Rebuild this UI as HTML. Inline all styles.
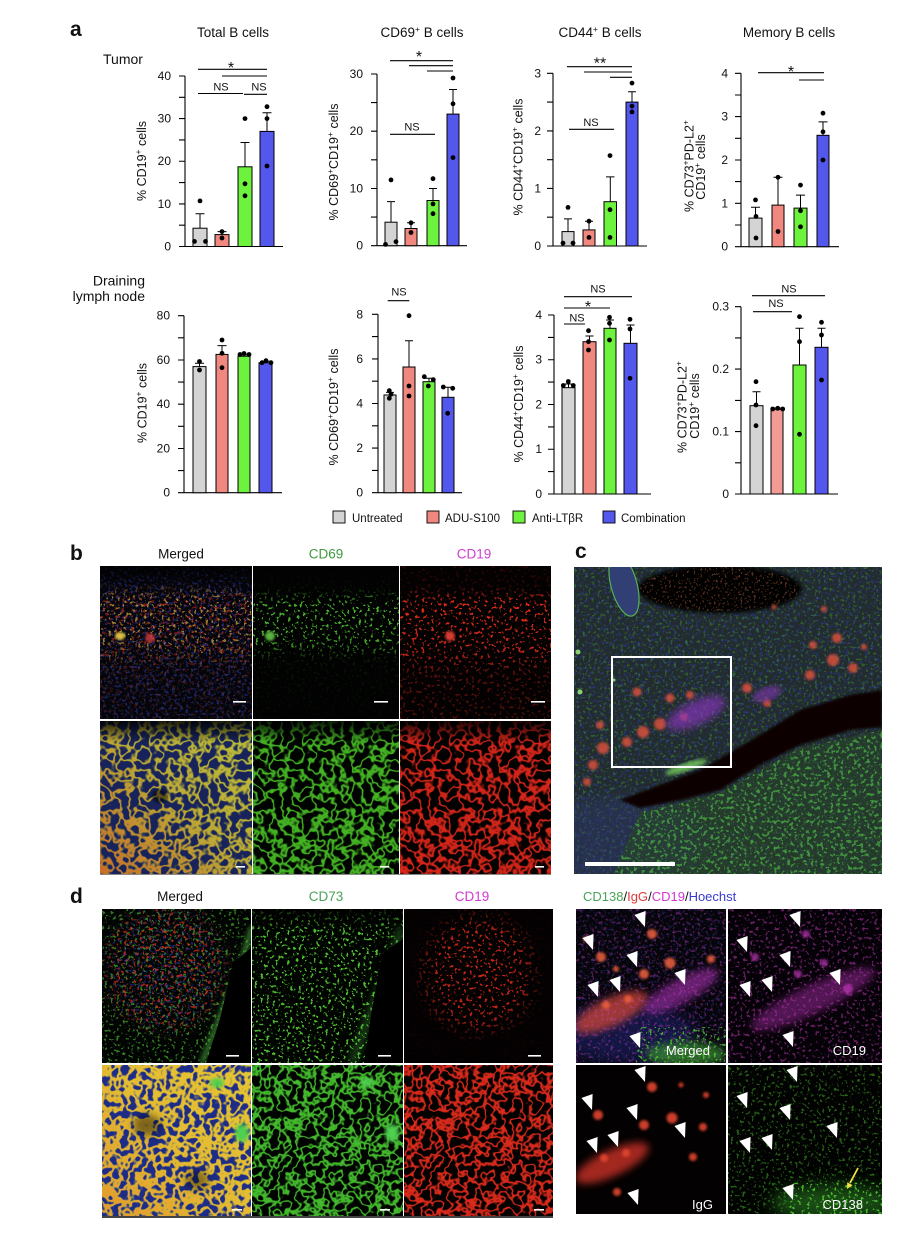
<!DOCTYPE html>
<html><head><meta charset="utf-8"><style>
html,body{margin:0;padding:0;background:#fff}
svg{display:block}
text{font-family:"Liberation Sans",Arial,sans-serif;fill:#111}
.tk{font-size:12px;text-anchor:end}
.ti{font-size:13.5px;text-anchor:middle}
.yl{font-size:12.5px;text-anchor:middle}
.ns{font-size:11px;text-anchor:middle}
.st{font-size:16px;text-anchor:middle}
.lt{font-size:21px;font-weight:bold}
.hd{font-size:13.5px;text-anchor:middle}
.lg{font-size:11.5px}
.wt{fill:#fff;font-size:13px;text-anchor:end}
.ax,.er,.sg{fill:none;stroke:#000;stroke-width:1.1}
.er{stroke-width:1}
.bar{stroke:#000;stroke-width:1}
</style></head><body>
<svg width="900" height="1234" viewBox="0 0 900 1234" xmlns="http://www.w3.org/2000/svg">
<defs>
<filter id="spG" x="0" y="0" width="1" height="1" color-interpolation-filters="sRGB"><feTurbulence type="fractalNoise" baseFrequency="0.34" numOctaves="2" seed="3"/><feColorMatrix type="matrix" values="0 0 0 0 0.32 0 0 0 0 0.8 0 0 0 0 0.2 13 0 0 0 -7.9"/></filter>
<filter id="spR" x="0" y="0" width="1" height="1" color-interpolation-filters="sRGB"><feTurbulence type="fractalNoise" baseFrequency="0.32" numOctaves="2" seed="8"/><feColorMatrix type="matrix" values="0 0 0 0 0.92 0 0 0 0 0.18 0 0 0 0 0.1 13 0 0 0 -7.8"/></filter>
<filter id="spY" x="0" y="0" width="1" height="1" color-interpolation-filters="sRGB"><feTurbulence type="fractalNoise" baseFrequency="0.34" numOctaves="2" seed="3"/><feColorMatrix type="matrix" values="0 0 0 0 0.9 0 0 0 0 0.72 0 0 0 0 0.25 13 0 0 0 -7.9"/></filter>
<filter id="spB" x="0" y="0" width="1" height="1" color-interpolation-filters="sRGB"><feTurbulence type="fractalNoise" baseFrequency="0.36" numOctaves="2" seed="12"/><feColorMatrix type="matrix" values="0 0 0 0 0.18 0 0 0 0 0.25 0 0 0 0 0.75 10 0 0 0 -5.8"/></filter>
<filter id="spM" x="0" y="0" width="1" height="1" color-interpolation-filters="sRGB"><feTurbulence type="fractalNoise" baseFrequency="0.32" numOctaves="2" seed="8"/><feColorMatrix type="matrix" values="0 0 0 0 0.85 0 0 0 0 0.25 0 0 0 0 0.8 13 0 0 0 -7.8"/></filter>
<filter id="spG2" x="0" y="0" width="1" height="1" color-interpolation-filters="sRGB"><feTurbulence type="fractalNoise" baseFrequency="0.3" numOctaves="2" seed="5"/><feColorMatrix type="matrix" values="0 0 0 0 0.3 0 0 0 0 0.72 0 0 0 0 0.28 10 0 0 0 -5.6"/></filter>
<filter id="spO" x="0" y="0" width="1" height="1" color-interpolation-filters="sRGB"><feTurbulence type="fractalNoise" baseFrequency="0.45" numOctaves="2" seed="9"/><feColorMatrix type="matrix" values="0 0 0 0 1 0 0 0 0 0.55 0 0 0 0 0.35 12 0 0 0 -7.2"/></filter>
<filter id="meshG" x="0" y="0" width="1" height="1" color-interpolation-filters="sRGB"><feTurbulence type="fractalNoise" baseFrequency="0.1" numOctaves="2" seed="4"/><feColorMatrix type="matrix" values="0 0 0 0 0.27 0 0 0 0 0.72 0 0 0 0 0.14 1 0 0 0 0"/><feComponentTransfer><feFuncA type="table" tableValues="0 0 0 0 0 0 0 0 0 0 0 0 0 .1 .5 .9 1 .9 .5 .1 0 0 0 0 0 0 0 0 0 0 0 0 0"/></feComponentTransfer></filter>
<filter id="meshR" x="0" y="0" width="1" height="1" color-interpolation-filters="sRGB"><feTurbulence type="fractalNoise" baseFrequency="0.1" numOctaves="2" seed="4"/><feColorMatrix type="matrix" values="0 0 0 0 0.86 0 0 0 0 0.15 0 0 0 0 0.1 1 0 0 0 0"/><feComponentTransfer><feFuncA type="table" tableValues="0 0 0 0 0 0 0 0 0 0 0 0 0 .1 .5 .9 1 .9 .5 .1 0 0 0 0 0 0 0 0 0 0 0 0 0"/></feComponentTransfer></filter>
<filter id="meshY" x="0" y="0" width="1" height="1" color-interpolation-filters="sRGB"><feTurbulence type="fractalNoise" baseFrequency="0.1" numOctaves="2" seed="4"/><feColorMatrix type="matrix" values="0 0 0 0 0.74 0 0 0 0 0.76 0 0 0 0 0.22 1 0 0 0 0"/><feComponentTransfer><feFuncA type="table" tableValues="0 0 0 0 0 0 0 0 0 0 0 0 0 .2 .6 .95 1 .95 .6 .2 0 0 0 0 0 0 0 0 0 0 0 0 0"/></feComponentTransfer></filter>
<filter id="meshG2" x="0" y="0" width="1" height="1" color-interpolation-filters="sRGB"><feTurbulence type="fractalNoise" baseFrequency="0.11" numOctaves="2" seed="17"/><feColorMatrix type="matrix" values="0 0 0 0 0.27 0 0 0 0 0.75 0 0 0 0 0.18 1 0 0 0 0"/><feComponentTransfer><feFuncA type="table" tableValues="0 0 0 0 0 0 0 0 0 0 0 0 0 .1 .5 .9 1 .9 .5 .1 0 0 0 0 0 0 0 0 0 0 0 0 0"/></feComponentTransfer></filter>
<filter id="meshR2" x="0" y="0" width="1" height="1" color-interpolation-filters="sRGB"><feTurbulence type="fractalNoise" baseFrequency="0.11" numOctaves="2" seed="17"/><feColorMatrix type="matrix" values="0 0 0 0 0.88 0 0 0 0 0.17 0 0 0 0 0.11 1 0 0 0 0"/><feComponentTransfer><feFuncA type="table" tableValues="0 0 0 0 0 0 0 0 0 0 0 0 0 .1 .5 .9 1 .9 .5 .1 0 0 0 0 0 0 0 0 0 0 0 0 0"/></feComponentTransfer></filter>
<filter id="meshY2" x="0" y="0" width="1" height="1" color-interpolation-filters="sRGB"><feTurbulence type="fractalNoise" baseFrequency="0.11" numOctaves="2" seed="17"/><feColorMatrix type="matrix" values="0 0 0 0 0.9 0 0 0 0 0.78 0 0 0 0 0.2 1 0 0 0 0"/><feComponentTransfer><feFuncA type="table" tableValues="0 0 0 0 0 0 0 0 0 0 0 0 .2 .6 .95 1 1 1 .95 .6 .2 0 0 0 0 0 0 0 0 0 0 0 0"/></feComponentTransfer></filter>
<filter id="bl1"><feGaussianBlur stdDeviation="1.2"/></filter>
<filter id="bl2"><feGaussianBlur stdDeviation="2"/></filter>
<filter id="bl4" x="-50%" y="-50%" width="200%" height="200%"><feGaussianBlur stdDeviation="4"/></filter>
<filter id="bl8" x="-50%" y="-50%" width="200%" height="200%"><feGaussianBlur stdDeviation="8"/></filter>
<linearGradient id="gBand" x1="0" y1="0" x2="0" y2="1"><stop offset="0" stop-color="#fff" stop-opacity="0"/><stop offset=".12" stop-color="#fff" stop-opacity=".1"/><stop offset=".22" stop-color="#fff" stop-opacity="1"/><stop offset=".5" stop-color="#fff" stop-opacity=".9"/><stop offset=".66" stop-color="#fff" stop-opacity=".2"/><stop offset="1" stop-color="#fff" stop-opacity=".1"/></linearGradient>
<linearGradient id="gBandG" x1="0" y1="0" x2="0" y2="1"><stop offset="0" stop-color="#fff" stop-opacity="0"/><stop offset=".15" stop-color="#fff" stop-opacity=".08"/><stop offset=".25" stop-color="#fff" stop-opacity=".9"/><stop offset=".5" stop-color="#fff" stop-opacity=".8"/><stop offset=".62" stop-color="#fff" stop-opacity=".1"/><stop offset="1" stop-color="#fff" stop-opacity=".03"/></linearGradient>
<linearGradient id="gBandR" x1="0" y1="0" x2="0" y2="1"><stop offset="0" stop-color="#fff" stop-opacity=".15"/><stop offset=".14" stop-color="#fff" stop-opacity=".15"/><stop offset=".24" stop-color="#fff" stop-opacity=".95"/><stop offset=".55" stop-color="#fff" stop-opacity=".8"/><stop offset=".7" stop-color="#fff" stop-opacity=".35"/><stop offset="1" stop-color="#fff" stop-opacity=".3"/></linearGradient>
<linearGradient id="gLL" x1="1" y1="0" x2="0" y2="1"><stop offset="0" stop-color="#fff" stop-opacity="0"/><stop offset=".5" stop-color="#fff" stop-opacity=".2"/><stop offset="1" stop-color="#fff" stop-opacity=".8"/></linearGradient>
<linearGradient id="gTop" x1="0" y1="0" x2="0" y2="1"><stop offset="0" stop-color="#000" stop-opacity=".85"/><stop offset=".14" stop-color="#000" stop-opacity="0"/></linearGradient>
<radialGradient id="gRad" cx=".42" cy=".38" r=".48"><stop offset="0" stop-color="#fff"/><stop offset=".7" stop-color="#fff" stop-opacity=".8"/><stop offset="1" stop-color="#fff" stop-opacity="0"/></radialGradient>
<radialGradient id="gRad2" cx=".5" cy=".42" r=".45"><stop offset="0" stop-color="#fff"/><stop offset=".65" stop-color="#fff" stop-opacity=".85"/><stop offset="1" stop-color="#fff" stop-opacity=".05"/></radialGradient>
<mask id="mBand" maskContentUnits="objectBoundingBox"><rect width="1" height="1" fill="url(#gBand)"/></mask>
<mask id="mBandG" maskContentUnits="objectBoundingBox"><rect width="1" height="1" fill="url(#gBandG)"/></mask>
<mask id="mBandR" maskContentUnits="objectBoundingBox"><rect width="1" height="1" fill="url(#gBandR)"/></mask>
<mask id="mLL" maskContentUnits="objectBoundingBox"><rect width="1" height="1" fill="url(#gLL)"/></mask>
<mask id="mRad" maskContentUnits="objectBoundingBox"><rect width="1" height="1" fill="url(#gRad)"/></mask>
<mask id="mRad2" maskContentUnits="objectBoundingBox"><rect width="1" height="1" fill="url(#gRad2)"/></mask>
<clipPath id="cLow"><path d="M40,307 L66,245 L146,226 L226,181 L308,163 L308,307Z"/></clipPath>
<clipPath id="cTopDark"><ellipse cx="146" cy="22" rx="80" ry="22"/></clipPath>
<clipPath id="rBot"><rect x="60" y="118" width="95" height="40"/></clipPath>
<path id="ah" d="M0,0 L-10.6,-12 L0.6,-16 Z" fill="#fff"/>
</defs>

<!-- ============ PANEL a, top row ============ -->
<text class="lt" x="70" y="36">a</text>
<text x="103" y="64" font-size="14">Tumor</text>

<!-- Chart 1 -->
<text class="ti" x="233" y="37">Total B cells</text>
<text class="yl" transform="translate(146,161) rotate(-90)">% CD19<tspan dy="-5" font-size="8.5">+</tspan><tspan dy="5"> cells</tspan></text>
<path class="ax" d="M185,76V246.5H283M179,76H185M179,97.3H185M179,118.6H185M179,139.9H185M179,161.25H185M179,182.6H185M179,203.9H185M179,225.2H185M179,246.5H185"/>
<text class="tk" x="171" y="250.5">0</text><text class="tk" x="171" y="207.9">10</text><text class="tk" x="171" y="165.2">20</text><text class="tk" x="171" y="122.6">30</text><text class="tk" x="171" y="80">40</text>
<rect class="bar" x="193" y="228.2" width="14" height="18.3" fill="#d4d4d4"/>
<rect class="bar" x="215" y="234.6" width="14" height="11.9" fill="#f08880"/>
<rect class="bar" x="238" y="166.8" width="14" height="79.7" fill="#6df23e"/>
<rect class="bar" x="260" y="131.4" width="14" height="115.1" fill="#5357ec"/>
<path class="er" d="M200,228.2V213.7M195.5,213.7H204.5M222,234.6V231.6M217.5,231.6H226.5M245,166.8V142.5M240.5,142.5H249.5M267,131.4V112.7M262.5,112.7H271.5"/>
<g fill="#000"><circle cx="200" cy="200.9" r="2.4"/><circle cx="194.5" cy="241.4" r="2.4"/><circle cx="205.5" cy="241.4" r="2.4"/><circle cx="222" cy="231.6" r="2.4"/><circle cx="222" cy="238" r="2.4"/><circle cx="245" cy="118.6" r="2.4"/><circle cx="245" cy="183.8" r="2.4"/><circle cx="245" cy="195.8" r="2.4"/><circle cx="267" cy="106.7" r="2.4"/><circle cx="267" cy="118.6" r="2.4"/><circle cx="267" cy="166" r="2.4"/></g>
<text class="st" x="231" y="73">*</text>
<path class="sg" d="M198,69.3H267M222,76H267M198,93.5H243M244,94.3H267"/>
<text class="ns" x="221" y="90.5">NS</text><text class="ns" x="259" y="90.5">NS</text>

<!-- Chart 2 -->
<text class="ti" x="422" y="37">CD69<tspan dy="-5" font-size="8.5">+</tspan><tspan dy="5"> B cells</tspan></text>
<text class="yl" transform="translate(338,162) rotate(-90)">% CD69<tspan dy="-5" font-size="8.5">+</tspan><tspan dy="5">CD19</tspan><tspan dy="-5" font-size="8.5">+</tspan><tspan dy="5"> cells</tspan></text>
<path class="ax" d="M377,74V245.7H467M371,74H377M371,102.6H377M371,131.2H377M371,159.8H377M371,188.5H377M371,217.1H377M371,245.7H377"/>
<text class="tk" x="363" y="249.7">0</text><text class="tk" x="363" y="192.5">10</text><text class="tk" x="363" y="135.2">20</text><text class="tk" x="363" y="78">30</text>
<rect class="bar" x="385" y="222.2" width="12" height="23.5" fill="#d4d4d4"/>
<rect class="bar" x="405" y="228.5" width="12" height="17.2" fill="#f08880"/>
<rect class="bar" x="427" y="200.5" width="12" height="45.2" fill="#6df23e"/>
<rect class="bar" x="447" y="114.1" width="12" height="131.6" fill="#5357ec"/>
<path class="er" d="M391,222.2V201.6M387,201.6H395M411,228.5V222.8M407,222.8H415M433,200.5V188.5M429,188.5H437M453,114.1V89.5M449,89.5H457"/>
<g fill="#000"><circle cx="391" cy="179.9" r="2.4"/><circle cx="385.5" cy="244.4" r="2.4"/><circle cx="396" cy="241.7" r="2.4"/><circle cx="411" cy="222.8" r="2.4"/><circle cx="411" cy="232.5" r="2.4"/><circle cx="433" cy="178.7" r="2.4"/><circle cx="433" cy="203.9" r="2.4"/><circle cx="433" cy="213.7" r="2.4"/><circle cx="453" cy="78" r="2.4"/><circle cx="453" cy="103.8" r="2.4"/><circle cx="453" cy="157.6" r="2.4"/></g>
<text class="st" x="419" y="62">*</text>
<path class="sg" d="M390,60.7H453M409,65.7H453M427,71H453M390,134.3H435"/>
<text class="ns" x="412" y="130.5">NS</text>

<!-- Chart 3 -->
<text class="ti" x="600" y="37">CD44<tspan dy="-5" font-size="8.5">+</tspan><tspan dy="5"> B cells</tspan></text>
<text class="yl" transform="translate(522.5,157) rotate(-90)">% CD44<tspan dy="-5" font-size="8.5">+</tspan><tspan dy="5">CD19</tspan><tspan dy="-5" font-size="8.5">+</tspan><tspan dy="5"> cells</tspan></text>
<path class="ax" d="M553,73.3V246H647M547,73.3H553M547,102.1H553M547,130.9H553M547,159.7H553M547,188.4H553M547,217.2H553M547,246H553"/>
<text class="tk" x="541" y="250">0</text><text class="tk" x="541" y="192.4">1</text><text class="tk" x="541" y="134.9">2</text><text class="tk" x="541" y="77.3">3</text>
<rect class="bar" x="562" y="231.6" width="12" height="14.4" fill="#d4d4d4"/>
<rect class="bar" x="583" y="229.9" width="12" height="16.1" fill="#f08880"/>
<rect class="bar" x="604" y="201.7" width="12.5" height="44.3" fill="#6df23e"/>
<rect class="bar" x="626" y="102.1" width="12" height="143.9" fill="#5357ec"/>
<path class="er" d="M568,231.6V218.9M564,218.9H572M589,229.9V221.2M585,221.2H593M610.3,201.7V176.9M606,176.9H614.5M632,102.1V91.7M628,91.7H636"/>
<g fill="#000"><circle cx="568" cy="207.4" r="2.4"/><circle cx="563" cy="243.1" r="2.4"/><circle cx="573" cy="243.1" r="2.4"/><circle cx="589" cy="221.2" r="2.4"/><circle cx="589" cy="237.4" r="2.4"/><circle cx="610" cy="155.6" r="2.4"/><circle cx="610" cy="209.7" r="2.4"/><circle cx="610" cy="237.4" r="2.4"/><circle cx="632" cy="83.1" r="2.4"/><circle cx="632" cy="106.1" r="2.4"/><circle cx="632" cy="111.9" r="2.4"/></g>
<text class="st" x="600" y="68.7">**</text>
<path class="sg" d="M567,66.7H632M584,72H632M610,77.3H632M569,129.3H614"/>
<text class="ns" x="591" y="126">NS</text>

<!-- Chart 4 -->
<text class="ti" x="789" y="37">Memory B cells</text>
<text class="yl" transform="translate(693.5,166) rotate(-90)">% CD73<tspan dy="-5" font-size="8.5">+</tspan><tspan dy="5">PD-L2</tspan><tspan dy="-5" font-size="8.5">+</tspan></text>
<text class="yl" transform="translate(705,167) rotate(-90)">CD19<tspan dy="-5" font-size="8.5">+</tspan><tspan dy="5"> cells</tspan></text>
<path class="ax" d="M741,73.3V246.7H839M735,73.3H741M735,95H741M735,116.6H741M735,138.3H741M735,160H741M735,181.6H741M735,203.3H741M735,225H741M735,246.7H741"/>
<text class="tk" x="728" y="250.7">0</text><text class="tk" x="728" y="207.3">1</text><text class="tk" x="728" y="164">2</text><text class="tk" x="728" y="120.6">3</text><text class="tk" x="728" y="77.3">4</text>
<rect class="bar" x="749" y="218.1" width="13" height="28.6" fill="#d4d4d4"/>
<rect class="bar" x="772" y="205.1" width="12" height="41.6" fill="#f08880"/>
<rect class="bar" x="794" y="208.1" width="13" height="38.6" fill="#6df23e"/>
<rect class="bar" x="817" y="135.3" width="12" height="111.4" fill="#5357ec"/>
<path class="er" d="M755.5,218.1V207.3M751,207.3H760M778,205.1V177.3M773.5,177.3H782.5M800.5,208.1V195.1M796,195.1H805M823,135.3V121.9M818.5,121.9H827.5"/>
<g fill="#000"><circle cx="755.5" cy="199.9" r="2.4"/><circle cx="756" cy="216.4" r="2.4"/><circle cx="756" cy="238" r="2.4"/><circle cx="778" cy="177.3" r="2.4"/><circle cx="778" cy="231.5" r="2.4"/><circle cx="800.5" cy="185.1" r="2.4"/><circle cx="800.5" cy="210.7" r="2.4"/><circle cx="800.5" cy="226.8" r="2.4"/><circle cx="823" cy="113.2" r="2.4"/><circle cx="823" cy="131.8" r="2.4"/><circle cx="823" cy="160" r="2.4"/></g>
<text class="st" x="791" y="77">*</text>
<path class="sg" d="M758,72.7H824M799,80H824"/>

<!-- ============ bottom row ============ -->
<text x="145" y="285.5" font-size="14" text-anchor="end">Draining</text>
<text x="145" y="301" font-size="14" text-anchor="end">lymph node</text>

<!-- Chart 5 -->
<text class="yl" transform="translate(146.5,403) rotate(-90)">% CD19<tspan dy="-5" font-size="8.5">+</tspan><tspan dy="5"> cells</tspan></text>
<path class="ax" d="M184,315.7V492.7H282M178,315.7H184M178,337.8H184M178,360H184M178,382.1H184M178,404.2H184M178,426.3H184M178,448.5H184M178,470.6H184M178,492.7H184"/>
<text class="tk" x="170" y="496.7">0</text><text class="tk" x="170" y="452.5">20</text><text class="tk" x="170" y="408.2">40</text><text class="tk" x="170" y="364">60</text><text class="tk" x="170" y="319.7">80</text>
<rect class="bar" x="193" y="366.6" width="13" height="126.1" fill="#d4d4d4"/>
<rect class="bar" x="216" y="354.4" width="12" height="138.3" fill="#f08880"/>
<rect class="bar" x="238" y="356.2" width="12" height="136.5" fill="#6df23e"/>
<rect class="bar" x="259" y="362.8" width="13" height="129.9" fill="#5357ec"/>
<path class="er" d="M199.5,366.6V363.3M195,363.3H204M222,354.4V345.6M217.5,345.6H226.5M244,356.2V354.8M239.5,354.8H248.5M265.5,362.8V361.3M261,361.3H270"/>
<g fill="#000"><circle cx="199.5" cy="361.5" r="2.4"/><circle cx="199.5" cy="370" r="2.4"/><circle cx="222" cy="340" r="2.4"/><circle cx="222" cy="353.3" r="2.4"/><circle cx="222" cy="367.7" r="2.4"/><circle cx="240" cy="354.5" r="2.4"/><circle cx="244" cy="353.5" r="2.4"/><circle cx="249" cy="354.5" r="2.4"/><circle cx="262" cy="362.7" r="2.4"/><circle cx="266" cy="360.7" r="2.4"/><circle cx="271" cy="362.7" r="2.4"/></g>

<!-- Chart 6 -->
<text class="yl" transform="translate(338,407) rotate(-90)">% CD69<tspan dy="-5" font-size="8.5">+</tspan><tspan dy="5">CD19</tspan><tspan dy="-5" font-size="8.5">+</tspan><tspan dy="5"> cells</tspan></text>
<path class="ax" d="M378,314.3V492.7H462M372,314.3H378M372,336.6H378M372,358.9H378M372,381.2H378M372,403.5H378M372,425.8H378M372,448.1H378M372,470.4H378M372,492.7H378"/>
<text class="tk" x="363" y="496.7">0</text><text class="tk" x="363" y="452.1">2</text><text class="tk" x="363" y="407.5">4</text><text class="tk" x="363" y="362.9">6</text><text class="tk" x="363" y="318.3">8</text>
<rect class="bar" x="384" y="395" width="12" height="97.7" fill="#d4d4d4"/>
<rect class="bar" x="403" y="367" width="12" height="125.7" fill="#f08880"/>
<rect class="bar" x="423" y="381.7" width="12" height="111" fill="#6df23e"/>
<rect class="bar" x="442" y="397.3" width="12" height="95.4" fill="#5357ec"/>
<path class="er" d="M390,395V392.4M386,392.4H394M409,367V340.7M405,340.7H413M429,381.7V378.3M425,378.3H433M448,397.3V387.3M444,387.3H452"/>
<g fill="#000"><circle cx="389.3" cy="390.7" r="2.4"/><circle cx="391" cy="394.3" r="2.4"/><circle cx="389.3" cy="398.3" r="2.4"/><circle cx="409" cy="315.7" r="2.4"/><circle cx="409" cy="386" r="2.4"/><circle cx="409" cy="396" r="2.4"/><circle cx="424.3" cy="376.7" r="2.4"/><circle cx="433.3" cy="379.7" r="2.4"/><circle cx="428.3" cy="386" r="2.4"/><circle cx="443.3" cy="387" r="2.4"/><circle cx="452.7" cy="388.3" r="2.4"/><circle cx="447.7" cy="413.3" r="2.4"/></g>
<path class="sg" d="M387.7,300.7H409.3"/>
<text class="ns" x="399" y="295.7">NS</text>

<!-- Chart 7 -->
<text class="yl" transform="translate(523,404) rotate(-90)">% CD44<tspan dy="-5" font-size="8.5">+</tspan><tspan dy="5">CD19</tspan><tspan dy="-5" font-size="8.5">+</tspan><tspan dy="5"> cells</tspan></text>
<path class="ax" d="M554,315V494H651M548,315H554M548,337.4H554M548,359.75H554M548,382.1H554M548,404.5H554M548,426.9H554M548,449.25H554M548,471.6H554M548,494H554"/>
<text class="tk" x="542" y="498">0</text><text class="tk" x="542" y="453.2">1</text><text class="tk" x="542" y="408.5">2</text><text class="tk" x="542" y="363.7">3</text><text class="tk" x="542" y="319">4</text>
<rect class="bar" x="562" y="387.7" width="13" height="106.3" fill="#d4d4d4"/>
<rect class="bar" x="583" y="341.7" width="13" height="152.3" fill="#f08880"/>
<rect class="bar" x="604" y="328.3" width="12" height="165.7" fill="#6df23e"/>
<rect class="bar" x="624" y="343.3" width="13" height="150.7" fill="#5357ec"/>
<path class="er" d="M568.5,387.7V384M564.5,384H572.5M589.5,341.7V336M585.5,336H593.5M610,328.3V320M606,320H614M630.5,343.3V325M626.5,325H634.5"/>
<g fill="#000"><circle cx="563.3" cy="385.5" r="2.4"/><circle cx="568.3" cy="381.5" r="2.4"/><circle cx="573.3" cy="385.5" r="2.4"/><circle cx="588.5" cy="330.7" r="2.4"/><circle cx="588.5" cy="341.7" r="2.4"/><circle cx="588.5" cy="350" r="2.4"/><circle cx="609.5" cy="317.3" r="2.4"/><circle cx="609.5" cy="323.3" r="2.4"/><circle cx="609.5" cy="340" r="2.4"/><circle cx="630" cy="319.3" r="2.4"/><circle cx="630" cy="329" r="2.4"/><circle cx="630" cy="378.3" r="2.4"/></g>
<path class="sg" d="M564,296.7H632M564,308H610M564,324H585"/>
<text class="ns" x="598" y="292.7">NS</text><text class="st" x="588" y="312">*</text><text class="ns" x="577" y="321.7">NS</text>

<!-- Chart 8 -->
<text class="yl" transform="translate(686.5,407) rotate(-90)">% CD73<tspan dy="-5" font-size="8.5">+</tspan><tspan dy="5">PD-L2</tspan><tspan dy="-5" font-size="8.5">+</tspan></text>
<text class="yl" transform="translate(699,406) rotate(-90)">CD19<tspan dy="-5" font-size="8.5">+</tspan><tspan dy="5"> cells</tspan></text>
<path class="ax" d="M741,306.7V494H838M735,306.7H741M735,337.9H741M735,369.1H741M735,400.4H741M735,431.6H741M735,462.8H741M735,494H741"/>
<text class="tk" x="729" y="498">0</text><text class="tk" x="729" y="435.6">0.1</text><text class="tk" x="729" y="373.1">0.2</text><text class="tk" x="729" y="310.7">0.3</text>
<rect class="bar" x="750" y="405.7" width="13" height="88.3" fill="#d4d4d4"/>
<rect class="bar" x="771" y="409.3" width="12" height="84.7" fill="#f29a94"/>
<rect class="bar" x="793" y="365" width="13" height="129" fill="#6df23e"/>
<rect class="bar" x="815" y="347.3" width="13" height="146.7" fill="#5357ec"/>
<path class="er" d="M756.5,405.7V391.7M752.5,391.7H760.5M777,409.3V408M773,408H781M799.5,365V328.3M795.5,328.3H803.5M821.5,347.3V328.3M817.5,328.3H825.5"/>
<g fill="#000"><circle cx="756" cy="381.7" r="2.4"/><circle cx="756" cy="405" r="2.4"/><circle cx="756" cy="425.7" r="2.4"/><circle cx="772.7" cy="409" r="2.4"/><circle cx="777.7" cy="408.3" r="2.4"/><circle cx="782.7" cy="409" r="2.4"/><circle cx="799.5" cy="316.7" r="2.4"/><circle cx="799.5" cy="341.7" r="2.4"/><circle cx="799.5" cy="434.3" r="2.4"/><circle cx="821.5" cy="322.3" r="2.4"/><circle cx="821.5" cy="335" r="2.4"/><circle cx="821.5" cy="380" r="2.4"/></g>
<path class="sg" d="M752,295.7H825M753,311.7H792"/>
<text class="ns" x="789" y="292.3">NS</text><text class="ns" x="776" y="307">NS</text>

<!-- Legend -->
<rect x="333" y="511" width="12" height="12" fill="#d4d4d4" stroke="#000" stroke-width=".9"/>
<text class="lg" x="352" y="522">Untreated</text>
<rect x="427" y="511" width="12" height="12" fill="#f08880" stroke="#000" stroke-width=".9"/>
<text class="lg" x="445" y="522">ADU-S100</text>
<rect x="513" y="511" width="12" height="12" fill="#6df23e" stroke="#000" stroke-width=".9"/>
<text class="lg" x="532" y="522">Anti-LTβR</text>
<rect x="603" y="511" width="12" height="12" fill="#5357ec" stroke="#000" stroke-width=".9"/>
<text class="lg" x="621" y="522">Combination</text>

<!-- ============ PANEL b ============ -->
<text class="lt" x="70" y="560">b</text>
<text class="hd" x="181" y="558.5">Merged</text>
<text class="hd" x="326" y="558.5" style="fill:#3f9a3f">CD69</text>
<text class="hd" x="474" y="558.5" style="fill:#d23cd2">CD19</text>

<svg x="100" y="566" width="152" height="153">
<rect width="152" height="153" fill="#04050b"/>
<rect width="152" height="153" filter="url(#spB)" opacity=".5"/>
<rect width="152" height="153" filter="url(#spY)" mask="url(#mBand)" opacity=".7"/>
<rect width="152" height="153" filter="url(#spR)" mask="url(#mBandR)" opacity=".55"/>
<ellipse cx="20" cy="70" rx="5" ry="4" fill="#d8c040" filter="url(#bl1)"/>
<ellipse cx="50" cy="72" rx="5" ry="5" fill="#d03a40" filter="url(#bl1)" opacity=".8"/>
<rect width="152" height="153" fill="url(#gTop)"/>
<rect x="133" y="135" width="13" height="1.6" fill="#fff"/>
</svg>
<svg x="253" y="566" width="146" height="153">
<rect width="146" height="153" fill="#010201"/>
<rect width="146" height="153" filter="url(#spG)" mask="url(#mBandG)"/>
<ellipse cx="17" cy="70" rx="5" ry="5" fill="#5cb040" filter="url(#bl1)"/>
<rect x="121" y="135" width="14" height="1.6" fill="#fff"/>
</svg>
<svg x="400" y="566" width="151" height="153">
<rect width="151" height="153" fill="#030101"/>
<rect width="151" height="153" filter="url(#spR)" mask="url(#mBandR)"/>
<ellipse cx="50" cy="70" rx="5" ry="5" fill="#d83a30" filter="url(#bl1)"/>
<rect x="131" y="135" width="14" height="1.6" fill="#fff"/>
</svg>

<svg x="100" y="721" width="152" height="153">
<rect width="152" height="153" fill="#17235a"/>
<rect width="152" height="153" filter="url(#meshY)"/>
<rect width="152" height="153" filter="url(#meshR)" mask="url(#mLL)" opacity=".7"/>
<ellipse cx="60" cy="75" rx="8" ry="7" fill="#000" filter="url(#bl1)" opacity=".5"/>
<rect width="152" height="153" fill="url(#gTop)"/>
<rect x="136" y="145" width="9" height="1.6" fill="#fff"/>
</svg>
<svg x="253" y="721" width="146" height="153">
<rect width="146" height="153" fill="#010301"/>
<rect width="146" height="153" filter="url(#meshG)"/>
<rect width="146" height="153" fill="url(#gTop)"/>
<rect x="127" y="145" width="9" height="1.6" fill="#fff"/>
</svg>
<svg x="400" y="721" width="151" height="153">
<rect width="151" height="153" fill="#040101"/>
<rect width="151" height="153" filter="url(#meshR)"/>
<rect width="151" height="153" fill="url(#gTop)"/>
<rect x="135" y="145" width="9" height="1.6" fill="#fff"/>
</svg>
<rect x="100" y="874" width="451" height="1" fill="#888"/>

<!-- ============ PANEL c ============ -->
<text class="lt" x="575" y="558">c</text>
<svg x="574" y="567" width="308" height="307">
<rect width="308" height="307" fill="#222b2d"/>
<rect width="308" height="307" filter="url(#spB)" opacity=".45"/>
<rect width="308" height="307" filter="url(#spG)" opacity=".3"/>
<ellipse cx="40" cy="275" rx="90" ry="45" fill="#2e3870" opacity=".45" filter="url(#bl8)"/>
<path d="M40,307 L66,245 L146,226 L226,181 L308,163 L308,307Z" fill="#27402b" opacity=".7"/>
<g clip-path="url(#cLow)"><rect width="308" height="307" filter="url(#spG2)" opacity=".7"/></g>
<ellipse cx="146" cy="22" rx="82" ry="24" fill="#050203" filter="url(#bl2)"/>
<g clip-path="url(#cTopDark)"><rect width="308" height="60" filter="url(#spO)" opacity=".35"/></g>
<ellipse cx="50" cy="18" rx="13" ry="32" transform="rotate(-15 50 18)" fill="#313f74" stroke="#5ab05a" stroke-width="1.2"/>
<path d="M46,233 L126,203 L186,168 L226,143 L276,128 L308,123 L308,160 L276,163 L226,178 L186,198 L146,223 L106,233 L66,241Z" fill="#070305" filter="url(#bl1)"/>
<g fill="#f0553e" filter="url(#bl1)" opacity=".75">
<circle cx="263" cy="71" r="5"/><circle cx="239" cy="78" r="4"/><circle cx="259" cy="93" r="6"/><circle cx="236" cy="108" r="5"/><circle cx="279" cy="101" r="5"/><circle cx="173" cy="121" r="5"/><circle cx="193" cy="136" r="4"/><circle cx="63" cy="125" r="4.5"/><circle cx="96" cy="131" r="4.5"/><circle cx="116" cy="128" r="4"/><circle cx="69" cy="165" r="6"/><circle cx="53" cy="175" r="5"/><circle cx="29" cy="181" r="6"/><circle cx="26" cy="158" r="4"/><circle cx="19" cy="198" r="5"/><circle cx="13" cy="215" r="4"/><circle cx="86" cy="157" r="6"/><circle cx="110" cy="150" r="4"/><circle cx="250" cy="42" r="3"/><circle cx="200" cy="40" r="2.5"/><circle cx="290" cy="80" r="3"/>
</g>
<ellipse cx="122" cy="146" rx="32" ry="12" transform="rotate(-25 122 146)" fill="#8a36c0" filter="url(#bl4)" opacity=".65"/>
<ellipse cx="193" cy="127" rx="15" ry="7" transform="rotate(-20 193 127)" fill="#8038b0" filter="url(#bl2)" opacity=".6"/>
<ellipse cx="112" cy="200" rx="22" ry="4" transform="rotate(-18 112 200)" fill="#7ad060" filter="url(#bl2)" opacity=".85"/>
<g fill="#8ad070"><circle cx="4" cy="85" r="2.5"/><circle cx="6" cy="125" r="2.5"/><circle cx="40" cy="113" r="1.5"/></g>
<rect x="38" y="90" width="119" height="110" fill="none" stroke="#fff" stroke-width="2"/>
<rect x="11" y="295" width="90" height="4" fill="#fff"/>
</svg>

<!-- ============ PANEL d ============ -->
<text class="lt" x="70" y="903">d</text>
<text class="hd" x="180" y="901">Merged</text>
<text class="hd" x="326" y="901" style="fill:#4aa35a">CD73</text>
<text class="hd" x="472" y="901" style="fill:#d336d3">CD19</text>

<svg x="102" y="909" width="149" height="154">
<rect width="149" height="154" fill="#020403"/>
<rect width="149" height="154" filter="url(#spG)" opacity=".6"/>
<g mask="url(#mRad)">
<rect width="149" height="154" filter="url(#spR)" opacity=".85"/>
<rect width="149" height="154" filter="url(#spB)" opacity=".55"/>
</g>
<path d="M150,18 L140,52 L118,108 L100,154" stroke="#4cb040" stroke-width="6" fill="none" filter="url(#bl2)" opacity=".55"/>
<path d="M131,54 L150,38 L150,154 L104,154 L118,110 Z" fill="#000"/>
<rect x="124" y="146" width="13" height="1.6" fill="#fff"/>
</svg>
<svg x="252" y="909" width="151" height="154">
<rect width="151" height="154" fill="#010301"/>
<rect width="151" height="154" filter="url(#spG)" opacity=".95"/>
<path d="M150,18 L140,52 L120,100 L100,154" stroke="#4cb040" stroke-width="7" fill="none" filter="url(#bl4)" opacity=".4"/>
<path d="M130,45 L151,30 L151,154 L112,154 L120,100 Z" fill="#000"/>
<rect width="151" height="154" fill="url(#gTop)"/>
<rect x="126" y="146" width="13" height="1.6" fill="#fff"/>
</svg>
<svg x="404" y="909" width="149" height="154">
<rect width="149" height="154" fill="#030101"/>
<rect width="149" height="154" filter="url(#spR)" mask="url(#mRad2)" opacity=".9"/>
<rect x="124" y="146" width="13" height="1.6" fill="#fff"/>
</svg>

<svg x="102" y="1065" width="149" height="152">
<rect width="149" height="152" fill="#1e2c88"/>
<rect width="149" height="152" filter="url(#meshY2)"/>
<rect width="149" height="152" filter="url(#meshR2)" mask="url(#mLL)" opacity=".4"/>
<ellipse cx="45" cy="60" rx="14" ry="11" fill="#000" opacity=".45" filter="url(#bl4)"/>
<ellipse cx="95" cy="115" rx="12" ry="10" fill="#000" opacity=".4" filter="url(#bl4)"/>
<ellipse cx="115" cy="18" rx="7" ry="5" fill="#50d050" filter="url(#bl2)"/>
<ellipse cx="140" cy="68" rx="7" ry="9" fill="#50d050" filter="url(#bl2)"/>
<rect x="130" y="144" width="10" height="1.6" fill="#fff"/>
</svg>
<svg x="252" y="1065" width="151" height="152">
<rect width="151" height="152" fill="#010301"/>
<rect width="151" height="152" filter="url(#meshG2)"/>
<ellipse cx="115" cy="18" rx="7" ry="5" fill="#50d050" filter="url(#bl2)"/>
<ellipse cx="140" cy="68" rx="7" ry="9" fill="#50d050" filter="url(#bl2)"/>
<rect x="128" y="144" width="10" height="1.6" fill="#fff"/>
</svg>
<svg x="404" y="1065" width="149" height="152">
<rect width="149" height="152" fill="#040101"/>
<rect width="149" height="152" filter="url(#meshR2)"/>
<rect x="130" y="144" width="10" height="1.6" fill="#fff"/>
</svg>
<rect x="102" y="1216" width="451" height="2" fill="#444"/>

<!-- d right -->
<text x="583" y="901" font-size="13"><tspan style="fill:#4aa35a">CD138</tspan>/<tspan style="fill:#e03a3a">IgG</tspan>/<tspan style="fill:#d336d3">CD19</tspan>/<tspan style="fill:#3a3ad0">Hoechst</tspan></text>

<svg x="576" y="909" width="150" height="154">
<rect width="150" height="154" fill="#060509"/>
<rect width="150" height="154" filter="url(#spB)" opacity=".3"/>
<ellipse cx="50" cy="125" rx="70" ry="30" fill="#232878" opacity=".5" filter="url(#bl8)"/>
<ellipse cx="35" cy="103" rx="40" ry="14" transform="rotate(-25 35 103)" fill="#d84a34" filter="url(#bl4)" opacity=".7"/>
<ellipse cx="105" cy="82" rx="42" ry="12" transform="rotate(-28 105 82)" fill="#a830b0" filter="url(#bl4)" opacity=".6"/>
<rect width="150" height="154" filter="url(#spM)" opacity=".35"/>
<ellipse cx="110" cy="145" rx="40" ry="12" fill="#3a9a32" filter="url(#bl4)" opacity=".65"/>
<g clip-path="url(#rBot)"><rect width="150" height="154" filter="url(#spG)" opacity=".8"/></g>
<g fill="#f0603e" filter="url(#bl1)" opacity=".85">
<circle cx="76" cy="25" r="5"/><circle cx="25" cy="48" r="5"/><circle cx="68" cy="65" r="5"/><circle cx="30" cy="96" r="4"/><circle cx="52" cy="90" r="4"/><circle cx="94" cy="54" r="5.5"/><circle cx="10" cy="30" r="3"/><circle cx="40" cy="60" r="3"/><circle cx="135" cy="50" r="4"/>
</g>
<use href="#ah" x="69" y="18"/><use href="#ah" x="17" y="41"/><use href="#ah" x="61" y="58"/><use href="#ah" x="22" y="88"/><use href="#ah" x="44" y="83"/><use href="#ah" x="109" y="76"/><use href="#ah" x="64" y="139"/>
<text class="wt" x="134" y="146">Merged</text>
</svg>
<svg x="728" y="909" width="154" height="154">
<rect width="154" height="154" fill="#050207"/>
<rect width="154" height="154" filter="url(#spM)" opacity=".45"/>
<ellipse cx="85" cy="90" rx="68" ry="14" transform="rotate(-25 85 90)" fill="#a02ca0" filter="url(#bl4)" opacity=".5"/>
<g fill="#c038b8" filter="url(#bl1)" opacity=".7">
<circle cx="78" cy="25" r="4"/><circle cx="27" cy="48" r="4"/><circle cx="70" cy="65" r="4"/><circle cx="96" cy="54" r="4"/><circle cx="120" cy="80" r="5"/>
</g>
<use href="#ah" x="72" y="18"/><use href="#ah" x="19" y="43"/><use href="#ah" x="62" y="58"/><use href="#ah" x="22" y="88"/><use href="#ah" x="44" y="83"/><use href="#ah" x="112" y="76"/><use href="#ah" x="65" y="138"/>
<text class="wt" x="138" y="146">CD19</text>
</svg>
<svg x="576" y="1065" width="150" height="149">
<rect width="150" height="149" fill="#030101"/>
<ellipse cx="36" cy="98" rx="40" ry="13" transform="rotate(-25 36 98)" fill="#d8352a" filter="url(#bl4)" opacity=".75"/>
<g fill="#e0452e" filter="url(#bl1)" opacity=".9">
<circle cx="76" cy="22" r="5"/><circle cx="22" cy="50" r="5"/><circle cx="68" cy="60" r="5"/><circle cx="28" cy="93" r="4"/><circle cx="50" cy="88" r="4"/><circle cx="96" cy="53" r="5.5"/><circle cx="117" cy="92" r="4"/><circle cx="127" cy="62" r="4"/><circle cx="41" cy="127" r="4"/><circle cx="130" cy="30" r="3"/><circle cx="105" cy="20" r="2.5"/>
</g>
<use href="#ah" x="69" y="17"/><use href="#ah" x="16" y="45"/><use href="#ah" x="61" y="55"/><use href="#ah" x="21" y="88"/><use href="#ah" x="42" y="82"/><use href="#ah" x="109" y="73"/><use href="#ah" x="62" y="140"/>
<text class="wt" x="137" y="144">IgG</text>
</svg>
<svg x="728" y="1065" width="154" height="149">
<rect width="154" height="149" fill="#010201"/>
<rect width="154" height="149" filter="url(#spG)" opacity=".45"/>
<ellipse cx="105" cy="138" rx="62" ry="18" fill="#2e8a28" filter="url(#bl8)" opacity=".55"/>
<g clip-path="url(#rBot)"><rect width="154" height="149" filter="url(#spG)" opacity=".8"/></g>
<use href="#ah" x="69" y="17"/><use href="#ah" x="19" y="43"/><use href="#ah" x="62" y="55"/><use href="#ah" x="22" y="88"/><use href="#ah" x="44" y="85"/><use href="#ah" x="109" y="73"/><use href="#ah" x="65" y="135"/>
<path d="M130,103 L122,118" stroke="#f0e040" stroke-width="1.8"/>
<polygon points="119,124 124.6,120.1 119.2,117.3" fill="#f0e040"/>
<text class="wt" x="135" y="144">CD138</text>
</svg>
</svg>
</body></html>
